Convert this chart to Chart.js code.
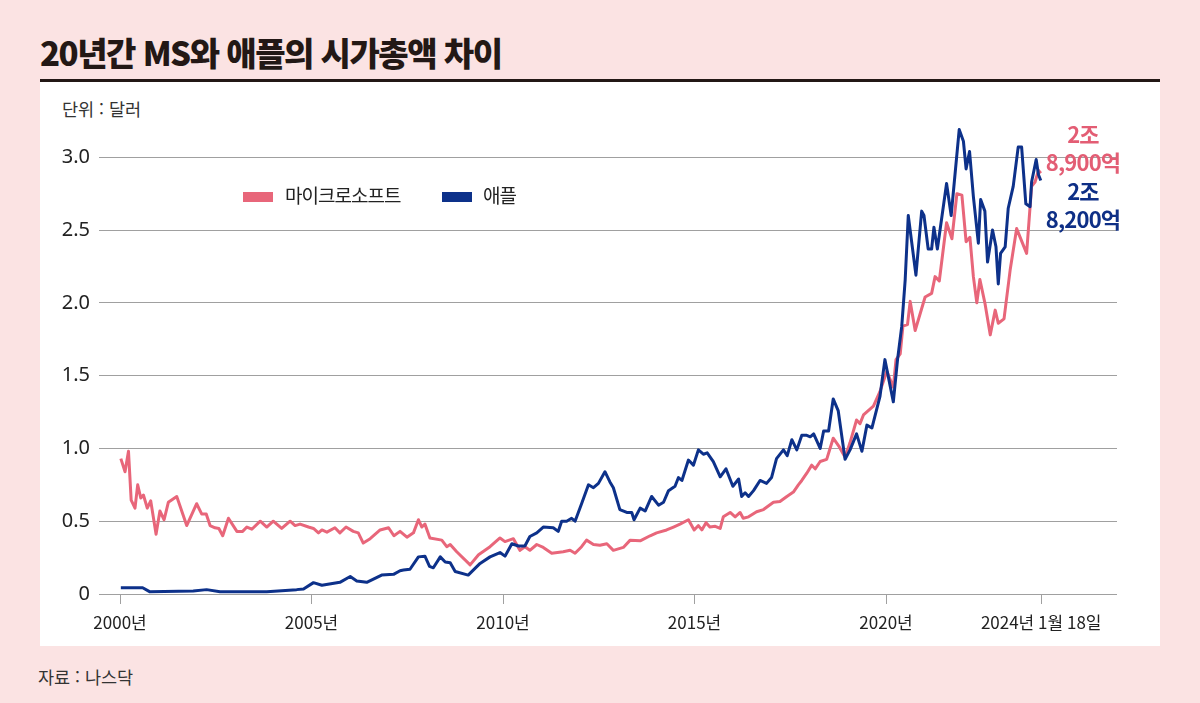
<!DOCTYPE html>
<html lang="ko">
<head>
<meta charset="utf-8">
<script src="https://cdn.jsdelivr.net/npm/chart.js@4.4.1/dist/chart.umd.min.js"></script>
<style>
  html, body { margin:0; padding:0; }
  body { width:1200px; height:703px; background:#fbe3e3; position:relative; overflow:hidden;
         font-family:"Noto Sans CJK KR","Noto Sans",sans-serif; }
  #panel { position:absolute; left:40px; top:82px; width:1120px; height:564px; background:#ffffff; }
  #title { position:absolute; left:40px; top:36px; font-size:33px; line-height:33px; font-weight:900;
           letter-spacing:-1.5px; color:#231815; white-space:nowrap; }
  #rule { position:absolute; left:40px; top:79px; width:1120px; height:3px; background:#231815; }
  #unit { position:absolute; left:62px; top:99px; font-size:17.5px; line-height:20px; color:#333; }
  #source { position:absolute; left:38px; top:667px; font-size:17.5px; line-height:20px; color:#333; }
  canvas { position:absolute; left:0; top:0; }
  .sw { position:absolute; width:30px; height:10px; top:192px; }
  .lg { position:absolute; top:183px; font-size:19px; line-height:24px; color:#222; letter-spacing:-1px; white-space:nowrap; }
  .ann { position:absolute; left:1025px; width:116px; text-align:center; font-size:22px; line-height:28px;
         font-weight:700; letter-spacing:-0.8px; white-space:nowrap; }
</style>
</head>
<body>
<div id="panel"></div>
<div id="title">20년간 MS와 애플의 시가총액 차이</div>
<div id="rule"></div>
<div id="unit">단위 : 달러</div>
<div id="source">자료 : 나스닥</div>
<canvas id="c" width="1200" height="703"></canvas>
<div class="sw" style="left:243px;background:#e8667a;"></div>
<div class="lg" style="left:285px;">마이크로소프트</div>
<div class="sw" style="left:442px;background:#0d318a;"></div>
<div class="lg" style="left:483px;">애플</div>
<div class="ann" style="top:119px;color:#e35d74;">2조<br>8,900억</div>
<div class="ann" style="top:176px;color:#0e2f86;">2조<br>8,200억</div>
<script>
// ---- data (market cap, trillion USD) ----
const msYears = [2000.02,2000.13,2000.22,2000.29,2000.39,2000.46,2000.54,2000.61,2000.71,2000.80,2000.94,2001.04,2001.15,2001.26,2001.48,2001.74,2002.00,2002.13,2002.25,2002.35,2002.48,2002.58,2002.68,2002.83,2003.05,2003.20,2003.31,2003.44,2003.66,2003.83,2004.00,2004.22,2004.44,2004.57,2004.70,2004.92,2005.05,2005.18,2005.27,2005.40,2005.61,2005.74,2005.90,2006.09,2006.22,2006.35,2006.53,2006.79,2007.01,2007.15,2007.31,2007.49,2007.66,2007.79,2007.88,2007.96,2008.09,2008.40,2008.53,2008.62,2008.79,2009.14,2009.36,2009.66,2009.92,2010.05,2010.27,2010.44,2010.57,2010.70,2010.88,2011.05,2011.27,2011.57,2011.75,2011.88,2012.05,2012.18,2012.36,2012.53,2012.71,2012.88,2013.14,2013.32,2013.58,2013.84,2014.01,2014.27,2014.45,2014.62,2014.84,2014.99,2015.10,2015.19,2015.30,2015.40,2015.54,2015.67,2015.75,2015.93,2016.06,2016.19,2016.27,2016.41,2016.62,2016.80,2017.06,2017.23,2017.41,2017.58,2017.71,2017.80,2017.93,2018.06,2018.15,2018.28,2018.45,2018.62,2018.78,2018.93,2019.06,2019.23,2019.32,2019.41,2019.67,2019.84,2020.02,2020.19,2020.26,2020.37,2020.44,2020.56,2020.63,2020.76,2021.02,2021.19,2021.28,2021.39,2021.58,2021.72,2021.85,2021.98,2022.09,2022.19,2022.28,2022.37,2022.45,2022.58,2022.72,2022.85,2022.93,2023.08,2023.24,2023.41,2023.67,2023.80,2023.89,2023.98,2024.04];
const msValues = [0.93,0.84,0.98,0.645,0.59,0.75,0.66,0.68,0.59,0.64,0.41,0.57,0.51,0.63,0.67,0.47,0.62,0.55,0.55,0.47,0.455,0.45,0.40,0.52,0.43,0.43,0.46,0.445,0.50,0.46,0.50,0.45,0.50,0.47,0.48,0.46,0.45,0.42,0.44,0.425,0.455,0.42,0.46,0.43,0.42,0.35,0.38,0.44,0.455,0.40,0.43,0.39,0.42,0.51,0.46,0.48,0.385,0.37,0.325,0.34,0.29,0.20,0.27,0.325,0.385,0.36,0.38,0.30,0.325,0.30,0.34,0.32,0.28,0.29,0.30,0.28,0.325,0.37,0.34,0.335,0.345,0.30,0.32,0.37,0.365,0.40,0.42,0.44,0.46,0.48,0.51,0.44,0.47,0.44,0.49,0.46,0.465,0.45,0.53,0.56,0.53,0.56,0.52,0.53,0.565,0.58,0.63,0.635,0.67,0.70,0.75,0.78,0.83,0.885,0.86,0.91,0.925,1.07,1.01,0.94,1.04,1.195,1.17,1.23,1.29,1.39,1.53,1.42,1.61,1.65,1.84,1.85,2.01,1.81,2.04,2.065,2.18,2.15,2.55,2.44,2.75,2.74,2.42,2.45,2.18,2.00,2.16,2.00,1.78,1.95,1.86,1.89,2.225,2.51,2.34,2.80,2.83,2.91,2.89];

const appleYears = [2000.02,2000.59,2000.77,2001.91,2002.26,2002.61,2003.83,2004.61,2004.79,2005.05,2005.27,2005.74,2006.01,2006.18,2006.44,2006.83,2007.14,2007.31,2007.40,2007.57,2007.79,2007.96,2008.08,2008.18,2008.36,2008.49,2008.62,2008.75,2009.09,2009.40,2009.66,2009.92,2010.05,2010.23,2010.40,2010.57,2010.70,2010.88,2011.05,2011.31,2011.44,2011.53,2011.66,2011.79,2011.88,2012.05,2012.23,2012.36,2012.49,2012.66,2012.79,2012.88,2013.05,2013.23,2013.36,2013.42,2013.58,2013.71,2013.88,2014.06,2014.19,2014.32,2014.49,2014.58,2014.67,2014.84,2014.97,2015.10,2015.23,2015.33,2015.49,2015.67,2015.82,2016.00,2016.15,2016.23,2016.32,2016.41,2016.54,2016.71,2016.88,2017.01,2017.14,2017.32,2017.42,2017.54,2017.67,2017.80,2017.93,2018.02,2018.11,2018.28,2018.37,2018.50,2018.62,2018.75,2018.93,2019.06,2019.23,2019.37,2019.50,2019.63,2019.84,2019.97,2020.19,2020.30,2020.41,2020.50,2020.58,2020.78,2020.93,2020.99,2021.10,2021.19,2021.25,2021.34,2021.58,2021.70,2021.91,2022.02,2022.09,2022.18,2022.28,2022.41,2022.47,2022.58,2022.65,2022.78,2022.87,2022.93,2022.99,2023.11,2023.19,2023.32,2023.45,2023.54,2023.65,2023.76,2023.80,2023.92,2023.98,2024.04];
const appleValues = [0.043,0.043,0.016,0.02,0.03,0.016,0.016,0.03,0.035,0.078,0.06,0.08,0.12,0.09,0.08,0.13,0.135,0.16,0.165,0.17,0.255,0.26,0.19,0.18,0.255,0.22,0.215,0.155,0.13,0.21,0.255,0.285,0.26,0.345,0.33,0.33,0.395,0.42,0.46,0.455,0.43,0.50,0.50,0.52,0.50,0.62,0.75,0.73,0.76,0.84,0.77,0.73,0.58,0.56,0.56,0.51,0.59,0.57,0.67,0.61,0.63,0.71,0.74,0.80,0.78,0.92,0.885,0.99,0.96,0.97,0.91,0.805,0.86,0.74,0.79,0.67,0.695,0.67,0.71,0.78,0.76,0.80,0.93,0.99,0.95,1.06,0.99,1.09,1.09,1.08,1.10,1.00,1.12,1.12,1.34,1.26,0.925,0.99,1.10,0.98,1.16,1.14,1.355,1.61,1.32,1.61,1.84,2.16,2.60,2.19,2.63,2.60,2.37,2.37,2.52,2.37,2.82,2.60,3.19,3.11,2.92,3.04,2.73,2.41,2.71,2.63,2.28,2.50,2.385,2.13,2.34,2.385,2.65,2.80,3.07,3.07,2.68,2.66,2.83,2.985,2.88,2.84];

const seriesNames = ['마이크로소프트', '애플'];
const xTickValues = [2000, 2005, 2010, 2015, 2020, 2024.05];
const xTickLabels = ['2000년', '2005년', '2010년', '2015년', '2020년', '2024년 1월 18일'];
const yTickValues = [0, 0.5, 1.0, 1.5, 2.0, 2.5, 3.0];

const toPoints = (xs, ys) => xs.map((x, i) => ({ x: x, y: ys[i] }));

new Chart(document.getElementById('c'), {
  type: 'line',
  data: {
    datasets: [
      { label: seriesNames[0], data: toPoints(msYears, msValues), borderColor: '#e8667a',
        borderWidth: 3, pointRadius: 0, tension: 0, order: 1, borderJoinStyle: 'round' },
      { label: seriesNames[1], data: toPoints(appleYears, appleValues), borderColor: '#0d318a',
        borderWidth: 3, pointRadius: 0, tension: 0, order: 0, borderJoinStyle: 'round' }
    ]
  },
  options: {
    responsive: false,
    animation: false,
    devicePixelRatio: 1,
    layout: { padding: { top: 113, right: 83, bottom: 59, left: 0 } },
    plugins: { legend: { display: false }, tooltip: { enabled: false } },
    scales: {
      x: {
        type: 'linear', min: 1999.45, max: 2026.03,
        afterBuildTicks: s => { s.ticks = xTickValues.map(v => ({ value: v })); },
        afterFit: s => { s.height = 50; },
        border: { display: false },
        grid: { drawOnChartArea: false, drawTicks: true, tickLength: 10, color: '#a0a0a0', lineWidth: 1 },
        ticks: {
          autoSkip: false, maxRotation: 0, padding: 8, color: '#222',
          font: { family: '"Liberation Sans Narrow","Noto Sans CJK KR",sans-serif', size: 17 },
          callback: (v, i) => xTickLabels[i]
        }
      },
      y: {
        min: 0, max: 3.304,
        afterBuildTicks: s => { s.ticks = yTickValues.map(v => ({ value: v })); },
        afterFit: s => { s.width = 99; },
        border: { display: false },
        grid: { drawTicks: false, color: '#a0a0a0', lineWidth: 1 },
        ticks: {
          padding: 9, color: '#222',
          font: { family: '"Liberation Sans Narrow","Noto Sans",sans-serif', size: 20 },
          callback: v => (v === 0 ? '0' : v.toFixed(1))
        }
      }
    }
  }
});
</script>
</body>
</html>
